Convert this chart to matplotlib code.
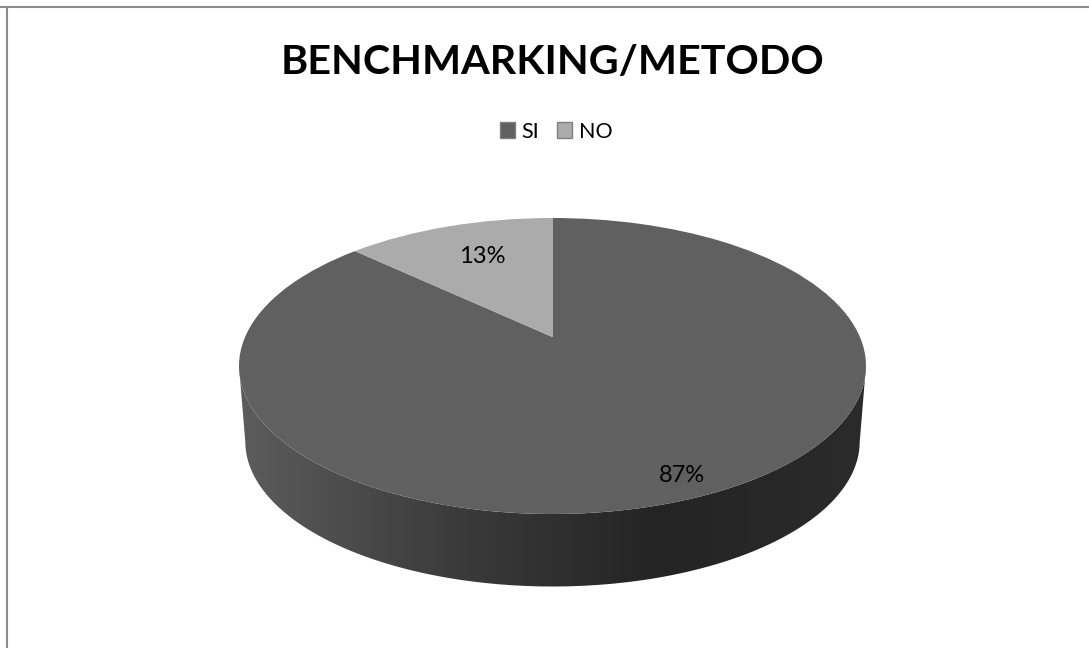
import numpy as np
import matplotlib
matplotlib.use("Agg")
import matplotlib.pyplot as plt
from matplotlib.patches import Patch, PathPatch
from matplotlib.path import Path
from matplotlib.lines import Line2D
from matplotlib.transforms import Transform

# Data
categories = ["SI", "NO"]
values = [87, 13]
value_labels = ["87%", "13%"]
title_text = "BENCHMARKING/METODO"

# Style
W, H = 1089, 648
slice_colors = ["#606060", "#ababab"]
wall_stops = ["#5c5c5c", "#3c3c3c", "#242424", "#2b2b2b"]
TILT = 0.196              # perspective: moves the pie centre towards the far rim
DROP = 0.51               # wall height, in pie radii
BASE_SCALE = 0.98         # lower rim is slightly narrower

plt.rcParams["font.family"] = ["Lato", "DejaVu Sans"]
fig = plt.figure(figsize=(W / 100, H / 100), dpi=100, facecolor="white")


class Perspective(Transform):
    """Projective map that keeps the unit circle but shifts its centre."""
    input_dims = output_dims = 2

    def __init__(self, c):
        super().__init__()
        self.c = c

    def transform_non_affine(self, values):
        v = np.asarray(values, dtype=float)
        x, y = v[:, 0], v[:, 1]
        w = 1 + self.c * y
        return np.column_stack([np.sqrt(1 - self.c ** 2) * x / w, (y + self.c) / w])


# Outer frame: only the top and left edges are visible
frame_kw = dict(transform=fig.transFigure, color="#8c8c8c", linewidth=1.5)
fig.add_artist(Line2D([0, 1], [1 - 7 / H, 1 - 7 / H], **frame_kw))
fig.add_artist(Line2D([7 / W, 7 / W], [0, 1 - 7 / H], **frame_kw))

# Pie axes: x -1..1 covers the rim, y reaches down to the lower rim
left, right, top, mid = 239, 866, 218, 366
ry = mid - top
ymin = -BASE_SCALE - DROP - 0.005
bottom_px = mid - ry * ymin
ax = fig.add_axes([left / W, 1 - bottom_px / H, (right - left) / W, (bottom_px - top) / H])

wedges, _, autotexts = ax.pie(values, colors=slice_colors, startangle=90,
                              counterclock=False, radius=1, autopct="%1.0f%%",
                              wedgeprops=dict(linewidth=0, zorder=3),
                              textprops=dict(fontsize=17, color="black", zorder=4))
for w in wedges:
    w.set_transform(Perspective(TILT) + ax.transData)
    w.set_clip_on(False)

# Label placement
for txt, pos, lab in zip(autotexts, [(0.414, -0.74), (-0.225, 0.743)], value_labels):
    txt.set_position(pos)
    txt.set_text(lab)
    txt.set_ha("center")
    txt.set_va("center")

# Side wall with horizontal gradient
t = np.linspace(np.pi, 2 * np.pi, 200)
upper = np.column_stack([np.cos(t), np.sin(t)])
lower = np.column_stack([BASE_SCALE * np.cos(t), BASE_SCALE * np.sin(t) - DROP])[::-1]
wall = np.vstack([upper, lower, upper[:1]])
wall_path = PathPatch(Path(wall), transform=ax.transData, facecolor="none", edgecolor="none")
ax.add_patch(wall_path)
cmap = matplotlib.colors.LinearSegmentedColormap.from_list("wall", wall_stops)
grad = np.linspace(0, 1, 512).reshape(1, -1)
im = ax.imshow(grad, cmap=cmap, aspect="auto", extent=(-1, 1, ymin, 0.1), zorder=2)
im.set_clip_path(wall_path)
ax.set_aspect("auto")
ax.set_xlim(-1, 1)
ax.set_ylim(ymin, 1)
ax.axis("off")

# Title and legend
fig.text(552 / W, 1 - 62 / H, title_text, ha="center", va="center",
         fontsize=29.7, fontweight="bold", color="black")
handles = [Patch(facecolor=c, edgecolor="#808080", linewidth=1) for c in slice_colors]
fig.legend(handles, categories, loc="center", bbox_to_anchor=(556 / W, 1 - 131.5 / H),
           ncol=2, frameon=False, fontsize=15.5, handlelength=0.72, handleheight=0.72,
           handletextpad=0.3, columnspacing=0.8)

fig.savefig("out.png", dpi=100, facecolor="white")
